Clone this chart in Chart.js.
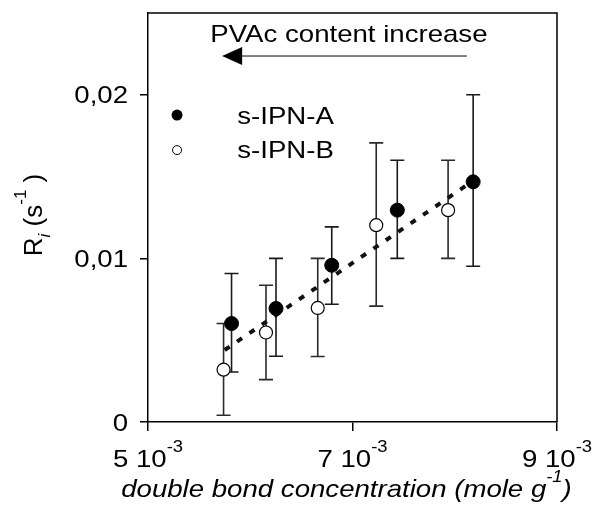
<!DOCTYPE html>
<html>
<head>
<meta charset="utf-8">
<script src="https://cdn.jsdelivr.net/npm/chart.js@4"></script>
<style>
  html, body { margin: 0; padding: 0; background: #fff; }
  #wrap { width: 593px; height: 513px; }
</style>
</head>
<body>
<div id="wrap"><canvas id="grafico" width="593" height="513"></canvas></div>
<script>
// s-IPN-A (filled)
const xA = [5.817e-3, 6.252e-3, 6.797e-3, 7.438e-3, 8.18e-3];
const yA = [0.00602, 0.00694, 0.00958, 0.01295, 0.01468];
const topA = [0.00908, 0.0100, 0.01193, 0.0160, 0.0200];
const botA = [0.00306, 0.00402, 0.0072, 0.0100, 0.00952];

// s-IPN-B (open)
const xB = [5.739e-3, 6.154e-3, 6.66e-3, 7.232e-3, 7.935e-3];
const yB = [0.0032, 0.00547, 0.00697, 0.01203, 0.01295];
const topB = [0.00602, 0.00836, 0.0100, 0.01706, 0.0160];
const botB = [0.00041, 0.00259, 0.0040, 0.00708, 0.0100];

// linear fit (dotted)
const fitX = [5.75e-3, 8.17e-3];
const fitY = [0.0044, 0.0147];

// ticks
const xTicks = [5e-3, 7e-3, 9e-3];
const xTickMant = ['5', '7', '9'];
const xTickExp = '-3';
const yTicks = [0, 0.01, 0.02];
const yTickLabels = ['0', '0,01', '0,02'];

const seriesNames = ['s-IPN-A', 's-IPN-B'];
const arrowText = 'PVAc content increase';

const FONT = '"Liberation Sans", Arial, Helvetica, sans-serif';

const pts = (xs, ys) => xs.map((x, i) => ({ x: x, y: ys[i] }));

// texto com sobrescrito/subscrito: parts = [[texto, tipo, italico]] tipo: 0 normal, 1 sup, -1 sub
function drawRich(ctx, parts, x, y, size, align, opts) {
    opts = opts || {};
    const stretch = opts.stretch || 1.15;
    const ital = opts.italic ? 'italic ' : '';
    const fontOf = p => {
        const s = p[1] === 0 ? size : Math.round(size * 0.65);
        const it = p[2] ? 'italic ' : ital;
        return it + s + 'px ' + FONT;
    };
    ctx.save();
    ctx.translate(x, y);
    if (opts.rotate) ctx.rotate(opts.rotate);
    ctx.scale(stretch, 1);
    ctx.fillStyle = '#000';
    ctx.textBaseline = 'alphabetic';
    let total = 0;
    parts.forEach(p => { ctx.font = fontOf(p); total += ctx.measureText(p[0]).width; });
    let cx = align === 'center' ? -total / 2 : (align === 'right' ? -total : 0);
    parts.forEach(p => {
        ctx.font = fontOf(p);
        const dy = p[1] === 1 ? -size * 0.62 : (p[1] === -1 ? size * 0.3 : 0);
        ctx.fillText(p[0], cx, dy);
        cx += ctx.measureText(p[0]).width;
    });
    ctx.restore();
}

function drawErrors(ctx, xs, top, bot, sx, sy, color) {
    ctx.save();
    ctx.strokeStyle = color;
    ctx.lineWidth = 1.6;
    xs.forEach((x, i) => {
        const px = sx.getPixelForValue(x);
        const p1 = sy.getPixelForValue(top[i]);
        const p2 = sy.getPixelForValue(bot[i]);
        ctx.beginPath();
        ctx.moveTo(px, p1); ctx.lineTo(px, p2);
        ctx.moveTo(px - 7, p1); ctx.lineTo(px + 7, p1);
        ctx.moveTo(px - 7, p2); ctx.lineTo(px + 7, p2);
        ctx.stroke();
    });
    ctx.restore();
}

const decor = {
    id: 'decor',
    beforeDatasetsDraw(chart) {
        const { ctx, scales: { x, y } } = chart;
        drawErrors(ctx, xA, topA, botA, x, y, '#1a1a1a');
        drawErrors(ctx, xB, topB, botB, x, y, '#2a2a2a');
    },
    afterDraw(chart) {
        const { ctx, chartArea: a, scales: { x, y } } = chart;

        // moldura superior e direita
        ctx.save();
        ctx.strokeStyle = '#000';
        ctx.lineWidth = 1.5;
        ctx.beginPath();
        ctx.moveTo(a.left, a.top); ctx.lineTo(a.right, a.top); ctx.lineTo(a.right, a.bottom);
        ctx.stroke();
        ctx.restore();

        // rótulos dos ticks
        xTicks.forEach((v, i) => {
            drawRich(ctx, [[xTickMant[i] + ' 10', 0], [xTickExp, 1]], x.getPixelForValue(v), 467, 24, 'center');
        });
        yTicks.forEach((v, i) => {
            drawRich(ctx, [[yTickLabels[i], 0]], 128, y.getPixelForValue(v) + 8.5, 24, 'right');
        });

        // títulos dos eixos
        drawRich(ctx, [['double bond concentration (mole g', 0], ['-1', 1], [')', 0]],
            (a.left + a.right) / 2 - 6, 497, 24, 'center', { italic: true });
        drawRich(ctx, [['R', 0], ['i', -1, true], [' (s', 0], ['-1', 1], [' )', 0]],
            42, 215, 26, 'center', { rotate: -Math.PI / 2, stretch: 1 });

        // seta e texto
        const ay = y.getPixelForValue(0.02237);
        const ax1 = x.getPixelForValue(8.118e-3);
        const ax2 = x.getPixelForValue(5.725e-3);
        ctx.save();
        ctx.strokeStyle = '#000';
        ctx.fillStyle = '#000';
        ctx.lineWidth = 1;
        ctx.beginPath();
        ctx.moveTo(ax1, ay); ctx.lineTo(ax2 + 15, ay);
        ctx.stroke();
        ctx.beginPath();
        ctx.moveTo(ax2, ay); ctx.lineTo(ax2 + 20, ay - 9); ctx.lineTo(ax2 + 20, ay + 9);
        ctx.closePath();
        ctx.fill();
        ctx.restore();
        drawRich(ctx, [[arrowText, 0]], x.getPixelForValue(6.965e-3), y.getPixelForValue(0.02322), 24, 'center');

        // legenda
        const lx = x.getPixelForValue(5.284e-3);
        const tx = x.getPixelForValue(5.873e-3);
        const lyA = y.getPixelForValue(0.01876);
        const lyB = y.getPixelForValue(0.01662);
        ctx.save();
        ctx.fillStyle = '#000';
        ctx.beginPath(); ctx.arc(lx, lyA, 5.5, 0, Math.PI * 2); ctx.fill();
        ctx.fillStyle = '#fff';
        ctx.strokeStyle = '#000';
        ctx.lineWidth = 1;
        ctx.beginPath(); ctx.arc(lx, lyB, 4.5, 0, Math.PI * 2); ctx.fill(); ctx.stroke();
        ctx.restore();
        drawRich(ctx, [[seriesNames[0], 0]], tx, lyA + 9, 24, 'left');
        drawRich(ctx, [[seriesNames[1], 0]], tx, lyB + 8, 24, 'left');
    }
};

new Chart(document.getElementById('grafico'), {
    type: 'scatter',
    data: {
        datasets: [
            {
                label: seriesNames[0],
                data: pts(xA, yA),
                pointRadius: 7,
                pointBackgroundColor: '#000',
                pointBorderColor: '#000',
                pointBorderWidth: 1,
                order: 1
            },
            {
                label: seriesNames[1],
                data: pts(xB, yB),
                pointRadius: 6.5,
                pointBackgroundColor: '#fff',
                pointBorderColor: '#000',
                pointBorderWidth: 1.2,
                order: 2
            },
            {
                type: 'line',
                label: 'fit',
                data: pts(fitX, fitY),
                borderColor: '#111',
                borderWidth: 4,
                borderDash: [6, 9],
                pointRadius: 0,
                fill: false,
                order: 3
            }
        ]
    },
    options: {
        responsive: false,
        devicePixelRatio: 1,
        animation: false,
        layout: { padding: { left: 148, right: 36, top: 13, bottom: 91 } },
        plugins: { legend: { display: false }, tooltip: { enabled: false } },
        scales: {
            x: {
                type: 'linear',
                min: 5e-3,
                max: 9e-3,
                afterBuildTicks: s => { s.ticks = xTicks.map(v => ({ value: v })); },
                afterFit: s => { s.height = 0; },
                ticks: { display: false },
                grid: { drawOnChartArea: false, drawTicks: true, tickLength: 9, color: '#000', lineWidth: 1.5 },
                border: { display: true, color: '#000', width: 1.5 }
            },
            y: {
                type: 'linear',
                min: 0,
                max: 0.025,
                afterBuildTicks: s => { s.ticks = yTicks.map(v => ({ value: v })); },
                afterFit: s => { s.width = 0; },
                ticks: { display: false },
                grid: { drawOnChartArea: false, drawTicks: true, tickLength: 8, color: '#000', lineWidth: 1.5 },
                border: { display: true, color: '#000', width: 1.5 }
            }
        }
    },
    plugins: [decor]
});
</script>
</body>
</html>
